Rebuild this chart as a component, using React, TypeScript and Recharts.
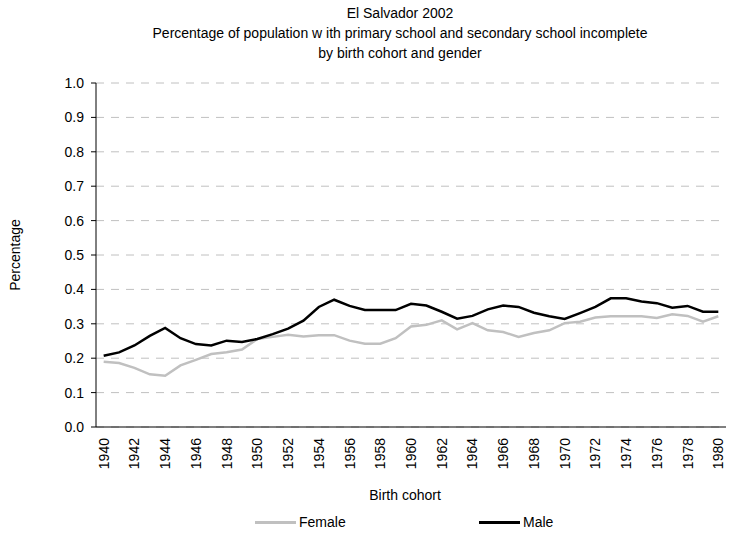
import { LineChart, Line, XAxis, YAxis, CartesianGrid } from "recharts";

const years = [
  1940, 1941, 1942, 1943, 1944, 1945, 1946, 1947, 1948, 1949, 1950, 1951, 1952, 1953,
  1954, 1955, 1956, 1957, 1958, 1959, 1960, 1961, 1962, 1963, 1964, 1965, 1966, 1967,
  1968, 1969, 1970, 1971, 1972, 1973, 1974, 1975, 1976, 1977, 1978, 1979, 1980,
];

const female = [
  0.19, 0.186, 0.172, 0.153, 0.149, 0.179, 0.195, 0.212, 0.217, 0.225, 0.256, 0.262, 0.268, 0.263,
  0.267, 0.267, 0.251, 0.242, 0.242, 0.258, 0.292, 0.297, 0.31, 0.284, 0.302, 0.281, 0.276, 0.262,
  0.273, 0.281, 0.302, 0.306, 0.318, 0.322, 0.322, 0.322, 0.317, 0.328, 0.323, 0.306, 0.322,
];

const male = [
  0.207, 0.217, 0.237, 0.265, 0.288, 0.258, 0.241, 0.237, 0.251, 0.247, 0.256, 0.27, 0.286, 0.309,
  0.349, 0.37, 0.352, 0.34, 0.34, 0.34, 0.358, 0.353, 0.335, 0.315, 0.323, 0.342, 0.353, 0.349,
  0.332, 0.322, 0.314, 0.331, 0.349, 0.374, 0.374, 0.365, 0.36, 0.347, 0.352, 0.335, 0.335,
];

const yTicks = [0, 0.1, 0.2, 0.3, 0.4, 0.5, 0.6, 0.7, 0.8, 0.9, 1.0];
const labelYears = [
  1940, 1942, 1944, 1946, 1948, 1950, 1952, 1954, 1956, 1958, 1960, 1962, 1964, 1966, 1968,
  1970, 1972, 1974, 1976, 1978, 1980,
];

// tick marks sit between categories, like the excel original
const boundaries = [...years.map((y) => y - 0.5), years[years.length - 1] + 0.5];

const data = years.map((year, i) => ({ year, Female: female[i], Male: male[i] }));

const FONT = '"Liberation Sans", Arial, sans-serif';
const FS = 14;

const YearTick = ({ x, y, payload }: any) => (
  <text
    x={x}
    y={y}
    transform={`rotate(-90, ${x}, ${y})`}
    textAnchor="end"
    dominantBaseline="central"
    fontSize={FS}
    fill="#000"
  >
    {payload.value}
  </text>
);

const App = () => {
  return (
    <div style={{ position: "absolute", left: 0, top: 0, width: 735, height: 540, fontFamily: FONT, background: "#fff" }}>
      <div style={{ position: "absolute", left: 0, width: 800, top: 3, textAlign: "center", fontSize: FS, lineHeight: "20px" }}>
        <div>El Salvador 2002</div>
        <div>Percentage of population w ith primary school and secondary school incomplete</div>
        <div>by birth cohort and gender</div>
      </div>
      <LineChart
        width={735}
        height={540}
        data={data}
        margin={{ top: 83, right: 9, left: 0, bottom: 0 }}
        style={{ fontFamily: FONT }}
      >
        <CartesianGrid vertical={false} stroke="#c0c0c0" strokeDasharray="8 7" />
        <XAxis
          xAxisId="a"
          dataKey="year"
          type="number"
          domain={[1939.5, 1980.5]}
          ticks={boundaries}
          interval={0}
          tick={false}
          tickSize={-4}
          height={11}
          axisLine={{ stroke: "#000" }}
          tickLine={{ stroke: "#000" }}
        />
        <XAxis
          xAxisId="b"
          dataKey="year"
          type="number"
          domain={[1939.5, 1980.5]}
          ticks={labelYears}
          interval={0}
          tick={<YearTick />}
          tickSize={0}
          tickMargin={0}
          height={102}
          axisLine={false}
          tickLine={false}
        />
        <YAxis
          domain={[0, 1]}
          ticks={yTicks}
          interval={0}
          width={96}
          tickFormatter={(v: number) => v.toFixed(1)}
          tick={{ fontSize: FS, fill: "#000" }}
          tickSize={5}
          tickMargin={7}
          axisLine={{ stroke: "#000" }}
          tickLine={{ stroke: "#000" }}
        />
        <Line
          xAxisId="a"
          dataKey="Female"
          stroke="#c0c0c0"
          strokeWidth={2.5}
          dot={false}
          isAnimationActive={false}
        />
        <Line
          xAxisId="a"
          dataKey="Male"
          stroke="#000"
          strokeWidth={2.5}
          dot={false}
          isAnimationActive={false}
        />
      </LineChart>
      <div
        style={{
          position: "absolute",
          left: 15,
          top: 255,
          fontSize: FS,
          transform: "translate(-50%, -50%) rotate(-90deg)",
          whiteSpace: "nowrap",
        }}
      >
        Percentage
      </div>
      <div style={{ position: "absolute", left: 0, width: 810, top: 487, textAlign: "center", fontSize: FS }}>
        Birth cohort
      </div>
      <div style={{ position: "absolute", top: 514, left: 255, fontSize: FS, display: "flex", alignItems: "center" }}>
        <span style={{ display: "inline-block", width: 41, height: 3, background: "#c0c0c0", marginRight: 3 }} />
        Female
      </div>
      <div style={{ position: "absolute", top: 514, left: 479, fontSize: FS, display: "flex", alignItems: "center" }}>
        <span style={{ display: "inline-block", width: 41, height: 3, background: "#000", marginRight: 3 }} />
        Male
      </div>
    </div>
  );
};

export default App;
